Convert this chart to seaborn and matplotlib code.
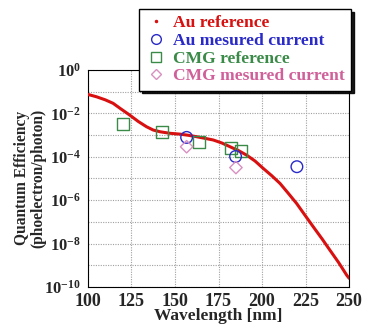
import numpy as np
import pandas as pd
import matplotlib
matplotlib.use("Agg")
import matplotlib.pyplot as plt
from matplotlib.lines import Line2D
import seaborn as sns

# Au reference curve (wavelength nm, log10 QE)
au_ref_wl = [100, 105, 110, 114.5, 119, 124, 129, 133.7, 137.5, 141.4, 147, 152.9, 157.5,
             162.5, 167, 172, 177, 181.6, 186.5, 191.2, 196, 200.7, 205.5, 210.3, 215,
             219.9, 224.5, 229.5, 234.5, 239, 244, 248.7, 250]
au_ref_log = [-1.13, -1.24, -1.38, -1.54, -1.80, -2.08, -2.38, -2.62, -2.77, -2.85, -2.92, -2.96, -3.01,
              -3.08, -3.15, -3.23, -3.37, -3.54, -3.72, -3.93, -4.20, -4.54, -4.87, -5.23, -5.68,
              -6.16, -6.68, -7.24, -7.79, -8.31, -8.88, -9.47, -9.60]

au_meas_wl = [156.7, 184.8, 220.0]
au_meas_log = [-3.11, -3.99, -4.46]

cmg_ref_wl = [120.3, 142.7, 164.0, 182.0, 188.0]
cmg_ref_log = [-2.51, -2.88, -3.31, -3.59, -3.74]

cmg_meas_wl = [156.7, 185.0]
cmg_meas_log = [-3.54, -4.50]

x_ticks = [100, 125, 150, 175, 200, 225, 250]
y_decades = list(range(-10, 1))

red = "#d81010"
blue = "#2a2ac8"
green = "#3a8a48"
pink = "#d0609a"
pink_marker = "#d890c0"

sns.set_style("white")
plt.rcParams["font.family"] = ["Liberation Serif", "DejaVu Serif"]
plt.rcParams["font.weight"] = "bold"
plt.rcParams["mathtext.fontset"] = "custom"
plt.rcParams["mathtext.rm"] = "Liberation Serif:bold"
plt.rcParams["mathtext.bf"] = "Liberation Serif:bold"

fig = plt.figure(figsize=(3.66, 3.25), dpi=100)
ax = fig.add_axes([0.240, 0.117, 0.714, 0.668])

ref_df = pd.DataFrame({"wl": au_ref_wl, "qe": 10.0 ** np.array(au_ref_log)})
sns.lineplot(data=ref_df, x="wl", y="qe", color=red, linewidth=2.2, ax=ax, zorder=3)

sns.scatterplot(x=cmg_ref_wl, y=10.0 ** np.array(cmg_ref_log), marker="s", s=75,
                facecolor="none", edgecolor=green, linewidth=1.0, ax=ax, zorder=4)
sns.scatterplot(x=au_meas_wl, y=10.0 ** np.array(au_meas_log), marker="o", s=70,
                facecolor="none", edgecolor=blue, linewidth=1.0, ax=ax, zorder=5)
sns.scatterplot(x=cmg_meas_wl, y=10.0 ** np.array(cmg_meas_log), marker="D", s=40,
                facecolor="none", edgecolor=pink_marker, linewidth=1.0, ax=ax, zorder=5)

ax.set_yscale("log")
ax.set_xlim(100, 250)
ax.set_ylim(1e-10, 1)
ax.set_xticks(x_ticks)
ax.set_xticklabels([str(t) for t in x_ticks], fontsize=13, fontweight="bold")
ax.set_yticks([10.0 ** d for d in y_decades])
ax.set_yticklabels([r"$\mathbf{10^{%d}}$" % d if d % 2 == 0 else "" for d in y_decades], fontsize=12)
ax.minorticks_off()
ax.tick_params(axis="x", length=0, pad=4)
ax.tick_params(axis="y", length=0, pad=5)
ax.grid(True, color="#a0a0a0", linestyle=(0, (1, 1.2)), linewidth=0.8)
for s in ax.spines.values():
    s.set_color("black")
    s.set_linewidth(0.8)

ax.set_xlabel("Wavelength [nm]", fontsize=12.5, fontweight="bold", labelpad=-1)
ax.set_ylabel("Quantum Efficiency\n(phoelectron/photon)", fontsize=11.2, fontweight="bold",
              linespacing=1.05)
ax.yaxis.set_label_coords(-0.158, 0.5)

handles = [
    Line2D([], [], linestyle="none", marker=".", markersize=3, color=red),
    Line2D([], [], linestyle="none", marker="o", markersize=7, markerfacecolor="none",
           markeredgecolor=blue),
    Line2D([], [], linestyle="none", marker="s", markersize=7, markerfacecolor="none",
           markeredgecolor=green),
    Line2D([], [], linestyle="none", marker="D", markersize=5, markerfacecolor="none",
           markeredgecolor=pink_marker),
]
labels = ["Au reference", "Au mesured current", "CMG reference", "CMG mesured current"]
leg = fig.legend(handles, labels, loc="upper left", bbox_to_anchor=(0.38, 0.972),
                 frameon=True, fancybox=False, shadow={"color": "black", "alpha": 0.9},
                 edgecolor="black", framealpha=1, borderpad=0.35, labelspacing=0.08,
                 handletextpad=0.4, handlelength=1.2, borderaxespad=0,
                 prop={"size": 12.6, "weight": "bold"},
                 labelcolor=[red, blue, green, pink])
leg.set_zorder(10)

plt.savefig("out.png", dpi=100)
